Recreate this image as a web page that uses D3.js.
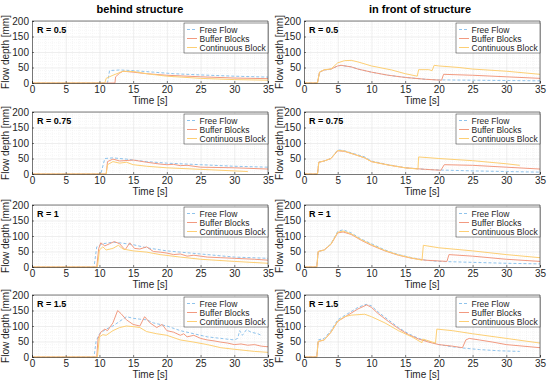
<!DOCTYPE html>
<html>
<head>
<meta charset="utf-8">
<script src="https://cdn.jsdelivr.net/npm/d3@7"></script>
<style>
body { margin: 0; background: #fff; }
text { font-family: "Liberation Sans", Arial, sans-serif; }
</style>
</head>
<body>
<div id="plt"></div>
<script>
// column titles and row labels
var columnTitles = ["behind structure", "in front of structure"];
var rLabels = ["R = 0.5", "R = 0.75", "R = 1", "R = 1.5"];
var seriesNames = ["Free Flow", "Buffer Blocks", "Continuous Block"];
var xTicks = [0, 5, 10, 15, 20, 25, 30, 35];
var yTicks = [0, 50, 100, 150, 200];

// [time s, depth mm]
// behind structure
var behind05Free = [[0,0],[11.2,0],[11.5,40],[13,42],[15,40],[18,35],[21,30],[25,26],[30,22],[35,19]];
var behind05Buffer = [[0,0],[12.3,0],[12.4,20],[13,32],[13.5,38],[15,35],[17,30],[20,25],[25,20],[30,16],[35,14]];
var behind05Cont = [[0,0],[10.8,0],[11,15],[12,25],[13.5,38],[15,37],[17,30],[20,22],[25,15],[30,11],[35,9]];

var behind075Free = [[0,0],[10.2,0],[10.8,50],[12,52],[14,48],[15,45],[17,40],[20,35],[25,30],[30,25],[35,22]];
var behind075Buffer = [[0,0],[11,0],[11.2,40],[12,48],[13,42],[15,45],[17,38],[19,32],[20,30],[21,31],[22,27],[23,28],[25,22],[30,20],[35,16]];
var behind075Cont = [[0,0],[11,0],[11.2,30],[12,40],[13,35],[14,38],[15,30],[17,25],[20,20],[25,15],[30,10],[32,8]];

var behind1Free = [[0,0],[9.2,0],[9.6,65],[10.5,75],[12,80],[13,78],[15,72],[17,62],[20,52],[25,42],[30,32],[35,28]];
var behind1Buffer = [[0,0],[9.6,0],[9.9,60],[10.2,78],[10.8,68],[11.5,75],[12.2,82],[13,75],[13.8,55],[14.5,78],[15.2,60],[16,58],[17,65],[18,50],[19,48],[20,45],[21,40],[22,42],[23,35],[24,38],[26,32],[28,30],[30,28],[33,25],[35,22]];
var behind1Cont = [[0,0],[9.7,0],[10,55],[10.5,65],[11,55],[12,60],[12.8,70],[13.5,58],[15,52],[17,48],[19,40],[22,32],[25,25],[30,18],[35,12]];

var behind15Free = [[0,0],[9.2,0],[9.5,50],[10,75],[11,90],[12,100],[13,115],[14,130],[15,125],[16,122],[17,120],[18,110],[20,100],[22,85],[24,75],[26,65],[28,60],[30,55],[30.5,60],[30.8,85],[31.2,70],[31.8,88],[32.5,80],[33.5,75],[34,70]];
var behind15Buffer = [[0,0],[9.6,0],[9.8,60],[10.2,80],[10.8,90],[11.2,85],[12,110],[12.7,150],[13.2,140],[14,120],[15,105],[16,100],[16.7,130],[17.5,110],[18.5,95],[19.3,105],[20,85],[21,80],[22,70],[22.5,75],[23,65],[24,70],[25,60],[26,55],[27,52],[28,48],[29,45],[30,40],[31,42],[32,38],[33,40],[34,35],[35,33]];
var behind15Cont = [[0,0],[9.7,0],[10,65],[10.5,72],[11,70],[12,85],[13,95],[14,100],[15,98],[16,95],[17,82],[18.5,75],[20,70],[22,55],[24,48],[26,40],[28,30],[30,25],[33,18],[35,15]];

// in front of structure
var front05Free = [[0,0],[2,0],[2.3,35],[3,42],[4,45],[5,55],[5.5,57],[7,52],[8,45],[10,35],[12.5,25],[15,18],[18,12],[20,10],[25,9],[30,8],[35,7]];
var front05Buffer = [[0,0],[2,0],[2.3,35],[3,42],[4,45],[5,55],[5.5,57],[7,52],[8,45],[10,35],[12.5,25],[15,18],[18,12],[20.4,9],[20.7,28],[25,25],[30,20],[35,15]];
var front05Cont = [[0,0],[2,0],[2.3,35],[3,43],[4,45],[5,65],[6,72],[7,73],[8,68],[10,55],[13,42],[15,30],[16.8,22],[17,43],[18.5,43],[19,40],[19.3,57],[20,55],[23,50],[25,45],[30,38],[35,28]];

var front075Free = [[0,0],[2,0],[2.2,38],[3,42],[4,50],[5,78],[6,75],[7.5,65],[9,55],[10,42],[12.5,30],[15,20],[18,15],[20,13],[25,10],[30,8],[35,6]];
var front075Buffer = [[0,0],[2,0],[2.2,38],[3,42],[4,50],[5,75],[6,73],[7.5,63],[9,52],[10,40],[12.5,29],[15,20],[18,15],[20.3,12],[20.8,30],[25,28],[30,22],[35,16]];
var front075Cont = [[0,0],[2,0],[2.2,38],[3,42],[4,50],[5,76],[6,74],[7.5,63],[9,52],[10,40],[12.5,29],[15,20],[16.9,16],[17,55],[20,50],[25,43],[30,33],[32,28]];

var front1Free = [[0,0],[1.9,0],[2.1,50],[3,55],[4,75],[5,115],[5.8,120],[7,110],[8.5,90],[10,75],[12,55],[14,40],[16,30],[18,22],[20,18],[25,15],[30,12],[35,10]];
var front1Buffer = [[0,0],[1.9,0],[2.1,50],[3,55],[4,73],[5,110],[5.8,113],[7,105],[8.5,86],[10,70],[12,52],[14,38],[16,28],[18,22],[21.2,18],[21.5,40],[25,35],[30,25],[35,18]];
var front1Cont = [[0,0],[1.9,0],[2.1,50],[3,55],[4,74],[5,112],[5.8,116],[7,107],[8.5,88],[10,72],[12,53],[14,39],[16,29],[17.5,22],[17.7,70],[20,62],[25,52],[30,40],[35,30]];

var front15Free = [[0,0],[1.9,0],[2.1,55],[3,60],[4,85],[5,120],[6.5,140],[8,160],[9.2,170],[10,165],[11,145],[12.5,120],[14,95],[15.5,75],[17,60],[18.5,50],[20,40],[22,33],[24,28],[26,24],[29,20],[32,18]];
var front15Buffer = [[0,0],[1.9,0],[2.1,50],[3,55],[4,80],[5,115],[6.5,135],[8,155],[9.3,168],[10,160],[11,140],[12.5,115],[14,92],[15.5,72],[17,58],[18.5,48],[20,40],[22,35],[23.5,30],[24,55],[24.5,60],[26,55],[28,48],[30,40],[35,30]];
var front15Cont = [[0,0],[1.9,0],[2.1,50],[3,55],[4,80],[5,115],[6,130],[7,135],[9,138],[10,130],[12,110],[14,85],[16,65],[17.5,46],[17.6,58],[19.5,45],[19.7,90],[22,85],[25,75],[30,60],[35,45]];

var panels = [
  [[behind05Free, behind05Buffer, behind05Cont], [front05Free, front05Buffer, front05Cont]],
  [[behind075Free, behind075Buffer, behind075Cont], [front075Free, front075Buffer, front075Cont]],
  [[behind1Free, behind1Buffer, behind1Cont], [front1Free, front1Buffer, front1Cont]],
  [[behind15Free, behind15Buffer, behind15Cont], [front15Free, front15Buffer, front15Cont]]
];

var colors = ["#8fc3ec", "#f29a80", "#fdcf74"];
var dashes = ["3,2", null, null];

var W = 550, H = 383;
var colLeft = [32, 304], plotW = 236;
var rowTop = [21, 112, 205, 295], plotH = 62;
var titleX = [140, 420];

var svg = d3.select("#plt").append("svg")
  .attr("width", W).attr("height", H)
  .style("display", "block");

columnTitles.forEach(function(t, c) {
  svg.append("text")
    .attr("x", titleX[c])
    .attr("y", 13)
    .attr("text-anchor", "middle")
    .style("font-size", "11px")
    .style("font-weight", "bold")
    .attr("fill", "#000")
    .text(t);
});

var x = d3.scaleLinear().domain([0, 35]).range([0, plotW]);
var y = d3.scaleLinear().domain([0, 200]).range([plotH, 0]);

var line = d3.line()
  .x(function(d) { return x(d[0]); })
  .y(function(d) { return y(d[1]); });

panels.forEach(function(row, r) {
  row.forEach(function(series, c) {
    var g = svg.append("g")
      .attr("transform", "translate(" + colLeft[c] + "," + rowTop[r] + ")");

    g.append("rect")
      .attr("width", plotW).attr("height", plotH)
      .attr("fill", "#fff");

    // minor grid
    g.append("g").selectAll("line")
      .data(d3.range(1, 35).filter(function(v) { return v % 5 !== 0; }))
      .enter().append("line")
      .attr("x1", function(d) { return x(d); }).attr("x2", function(d) { return x(d); })
      .attr("y1", 0).attr("y2", plotH)
      .attr("stroke", "#f0f0f0").attr("stroke-width", 0.6)
      .attr("stroke-dasharray", "1,1");
    g.append("g").selectAll("line")
      .data(d3.range(10, 200, 10).filter(function(v) { return v % 50 !== 0; }))
      .enter().append("line")
      .attr("y1", function(d) { return y(d); }).attr("y2", function(d) { return y(d); })
      .attr("x1", 0).attr("x2", plotW)
      .attr("stroke", "#f0f0f0").attr("stroke-width", 0.6)
      .attr("stroke-dasharray", "1,1");

    // major grid
    g.append("g")
      .call(d3.axisBottom(x).tickValues(xTicks).tickSize(plotH).tickFormat(""))
      .call(function(a) {
        a.select(".domain").remove();
        a.selectAll("line").attr("stroke", "#e2e2e2").attr("stroke-width", 0.6);
      });
    g.append("g")
      .call(d3.axisLeft(y).tickValues(yTicks).tickSize(-plotW).tickFormat(""))
      .call(function(a) {
        a.select(".domain").remove();
        a.selectAll("line").attr("stroke", "#e2e2e2").attr("stroke-width", 0.6);
      });

    // series
    series.forEach(function(data, i) {
      g.append("path")
        .datum(data)
        .attr("d", line)
        .attr("fill", "none")
        .attr("stroke", colors[i])
        .attr("stroke-width", 1)
        .attr("stroke-dasharray", dashes[i]);
    });

    // axes, ticks pointing inward like the original
    var xa = g.append("g")
      .attr("transform", "translate(0," + plotH + ")")
      .call(d3.axisBottom(x).tickValues(xTicks).tickSize(-2).tickPadding(3));
    var ya = g.append("g")
      .call(d3.axisLeft(y).tickValues(yTicks).tickSize(-2).tickPadding(3));
    [xa, ya].forEach(function(a) {
      a.select(".domain").attr("stroke", "#262626").attr("stroke-width", 0.6);
      a.selectAll("line").attr("stroke", "#262626").attr("stroke-width", 0.6);
      a.selectAll("text").attr("fill", "#262626")
        .style("font-size", "10px")
        .style("font-family", "'Liberation Sans', Arial, sans-serif");
    });
    // top and right frame
    g.append("path")
      .attr("d", "M0,0H" + plotW + "V" + plotH)
      .attr("fill", "none").attr("stroke", "#262626").attr("stroke-width", 0.6);

    g.append("text")
      .attr("x", 5).attr("y", 12)
      .style("font-size", "9px").style("font-weight", "bold")
      .attr("fill", "#000")
      .text(rLabels[r]);

    // legend
    var lg = g.append("g").attr("transform", "translate(" + (plotW - 84) + ",2)");
    lg.append("rect")
      .attr("width", 84).attr("height", 30)
      .attr("fill", "#fff").attr("stroke", "#262626").attr("stroke-width", 0.5);
    seriesNames.forEach(function(n, i) {
      var yy = 6.5 + i * 9;
      lg.append("line")
        .attr("x1", 3).attr("x2", 13).attr("y1", yy).attr("y2", yy)
        .attr("stroke", colors[i]).attr("stroke-width", 1)
        .attr("stroke-dasharray", dashes[i]);
      lg.append("text")
        .attr("x", 15.5).attr("y", yy + 3)
        .style("font-size", "8.5px")
        .attr("fill", "#262626")
        .text(n);
    });

    // axis labels
    g.append("text")
      .attr("transform", "translate(" + (c === 0 ? -23 : -21) + "," + (plotH / 2) + ")rotate(-90)")
      .attr("text-anchor", "middle")
      .style("font-size", "10px")
      .attr("fill", "#262626")
      .text("Flow depth [mm]");
    g.append("text")
      .attr("x", plotW / 2).attr("y", plotH + 21)
      .attr("text-anchor", "middle")
      .style("font-size", "10px")
      .attr("fill", "#262626")
      .text("Time [s]");
  });
});
</script>
</body>
</html>
